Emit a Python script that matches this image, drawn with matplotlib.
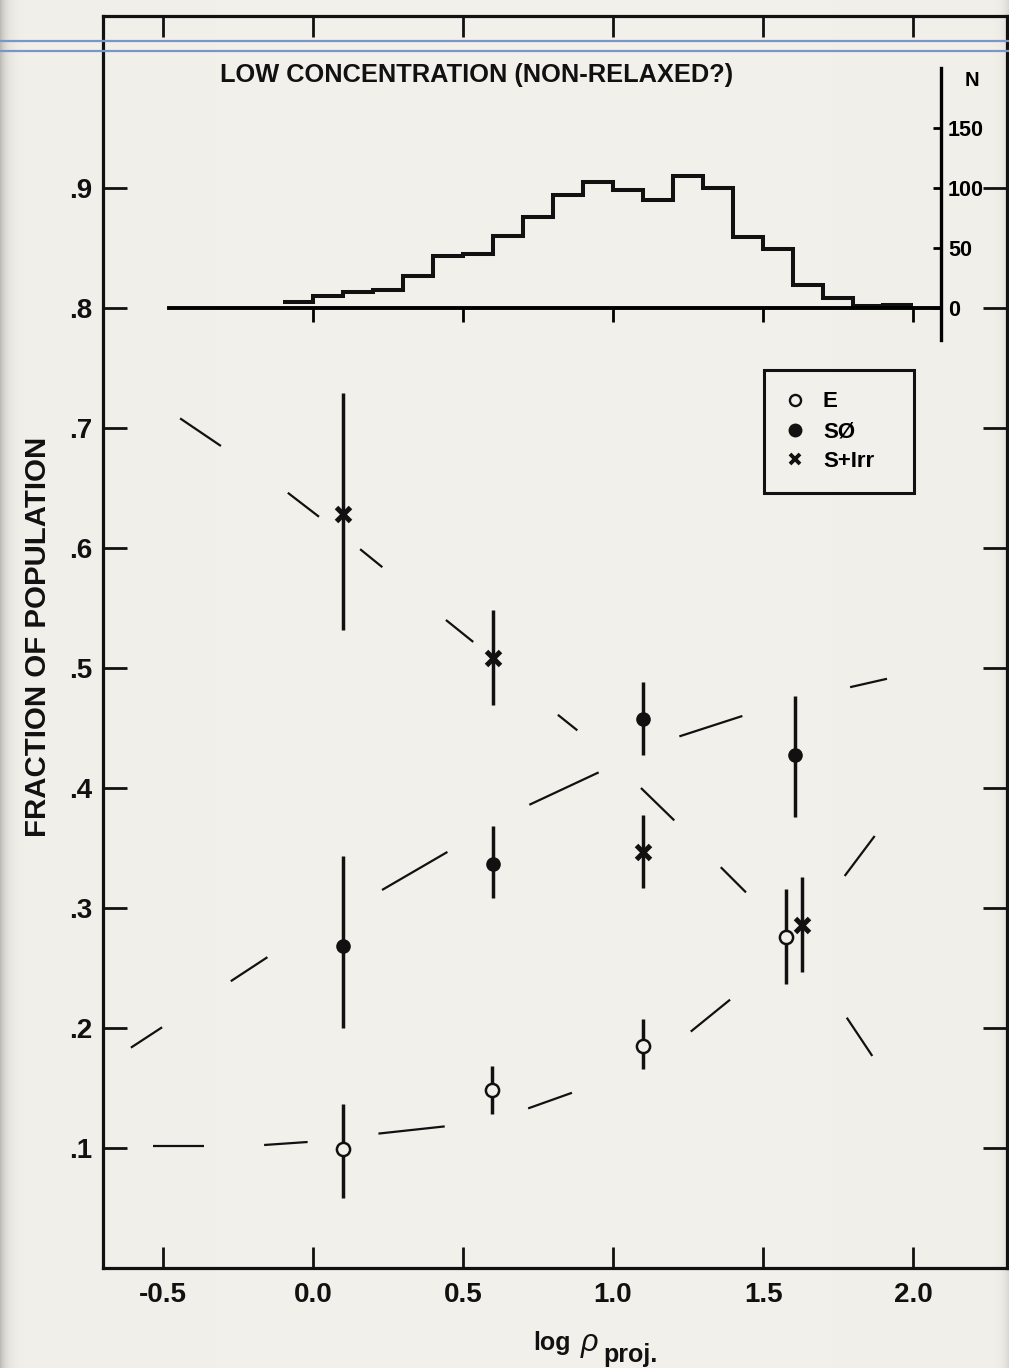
import numpy as np
import matplotlib
matplotlib.use("Agg")
import matplotlib.pyplot as plt
from matplotlib.lines import Line2D

# ---------------- data ----------------
# morphological fractions in bins of projected density
e_x = [0.10, 0.598, 1.10, 1.577]
e_y = [0.099, 0.148, 0.185, 0.276]
e_lo = [0.058, 0.128, 0.166, 0.237]
e_hi = [0.137, 0.168, 0.2075, 0.316]

s0_x = [0.10, 0.60, 1.10, 1.605]
s0_y = [0.2686, 0.337, 0.4575, 0.4275]
s0_lo = [0.200, 0.308, 0.4275, 0.376]
s0_hi = [0.343, 0.368, 0.488, 0.477]

sp_x = [0.10, 0.60, 1.10, 1.629]
sp_y = [0.628, 0.508, 0.347, 0.286]
sp_lo = [0.532, 0.469, 0.317, 0.247]
sp_hi = [0.729, 0.548, 0.3775, 0.3256]

# hand-drawn trend curves (start/end of each drawn dash)
e_curve_x = [(-0.534, -0.363), (-0.163, -0.018), (0.218, 0.439), (0.717, 0.863), (1.259, 1.390), (1.772, 1.872)]
e_curve_y = [(0.1017, 0.1017), (0.1025, 0.105), (0.112, 0.118), (0.133, 0.146), (0.197, 0.2236), (0.3267, 0.360)]

s0_curve_x = [(-0.607, -0.503), (-0.274, -0.152), (0.230, 0.448), (0.721, 0.952), (1.221, 1.431), (1.790, 1.913)]
s0_curve_y = [(0.1836, 0.2006), (0.239, 0.259), (0.315, 0.3467), (0.386, 0.413), (0.443, 0.460), (0.484, 0.491)]

sp_curve_x = [(-0.443, -0.307), (-0.084, 0.020), (0.157, 0.231), (0.443, 0.534), (0.816, 0.881), (1.093, 1.204), (1.359, 1.443), (1.779, 1.864)]
sp_curve_y = [(0.708, 0.685), (0.646, 0.626), (0.599, 0.584), (0.540, 0.5217), (0.461, 0.448), (0.400, 0.373), (0.334, 0.313), (0.2086, 0.1767)]

# number of galaxies per density bin
hist_edges = [-0.1, 0.0, 0.1, 0.2, 0.3, 0.4, 0.5, 0.6, 0.7, 0.8, 0.9, 1.0,
              1.1, 1.2, 1.3, 1.4, 1.5, 1.6, 1.7, 1.8, 1.9, 2.0]
hist_counts = [5, 10, 13, 15, 26, 43, 45, 60, 76, 94, 105, 98,
               90, 110, 100, 59, 49, 19, 8, 1, 2]

x_ticks = [-0.5, 0.0, 0.5, 1.0, 1.5, 2.0]
x_tick_labels = ["-0.5", "0.0", "0.5", "1.0", "1.5", "2.0"]
y_ticks = [0.1, 0.2, 0.3, 0.4, 0.5, 0.6, 0.7, 0.8, 0.9]
y_tick_labels = [".1", ".2", ".3", ".4", ".5", ".6", ".7", ".8", ".9"]
n_ticks = [0, 50, 100, 150]
n_tick_labels = ["0", "50", "100", "150"]

legend_labels = ["E", "S\u00d8", "S+Irr"]

# ---------------- style ----------------
PAPER = "#f2f0eb"
INK = "#111111"
FONT = "Liberation Sans"
plt.rcParams["font.family"] = [FONT, "DejaVu Sans"]
plt.rcParams["font.weight"] = "bold"

W, H, DPI = 1009, 1368, 100
fig = plt.figure(figsize=(W / DPI, H / DPI), dpi=DPI, facecolor=PAPER)

# paper background with slightly darker scanned edges
bg = fig.add_axes([0, 0, 1, 1], zorder=-10)
xx = np.arange(W)
shade = 1 - 0.22 * np.exp(-xx / 6.0) - 0.10 * np.exp(-(W - 1 - xx) / 5.0)
base = np.array([0xf2, 0xf0, 0xeb]) / 255.0
img = np.ones((H, W, 3)) * base
img *= shade[None, :, None]
bg.imshow(img, extent=[0, 1, 0, 1], aspect="auto")
bg.axis("off")

ax = fig.add_axes([103 / W, 100 / H, (1007 - 103) / W, (1268 - 16) / H])
ax.set_facecolor("none")
ax.set_xlim(-0.70, 2.313)
ax.set_ylim(0.0, 1.0433)
for s in ax.spines.values():
    s.set_linewidth(2.3)
    s.set_color(INK)

ax.set_xticks(x_ticks)
ax.set_xticklabels(x_tick_labels)
ax.set_yticks(y_ticks)
ax.set_yticklabels(y_tick_labels)
ax.tick_params(axis="x", direction="in", length=15, width=2, top=True, bottom=True,
               labelsize=20, pad=10, colors=INK)
ax.tick_params(axis="y", direction="in", length=17, width=2, left=True, right=True,
               labelsize=20, pad=8, colors=INK)

# trend curves
for cx, cy in ((e_curve_x, e_curve_y), (s0_curve_x, s0_curve_y), (sp_curve_x, sp_curve_y)):
    for (x0, x1), (y0, y1) in zip(cx, cy):
        ax.plot([x0, x1], [y0, y1], color=INK, lw=1.6, solid_capstyle="butt", zorder=2)


def bars(x, y, lo, hi):
    y = np.asarray(y)
    yerr = [y - np.asarray(lo), np.asarray(hi) - y]
    ax.errorbar(x, y, yerr=yerr, fmt="none", ecolor=INK, elinewidth=2.5, capsize=0, zorder=3)


bars(e_x, e_y, e_lo, e_hi)
bars(s0_x, s0_y, s0_lo, s0_hi)
bars(sp_x, sp_y, sp_lo, sp_hi)

ax.plot(e_x, e_y, ls="none", marker="o", ms=9.5, mfc=PAPER, mec=INK, mew=1.8, zorder=4)
ax.plot(s0_x, s0_y, ls="none", marker="o", ms=9.5, mfc=INK, mec=INK, zorder=4)
ax.plot(sp_x, sp_y, ls="none", marker="x", ms=10, mec=INK, mew=3.6, zorder=4)

# legend
handles = [
    Line2D([], [], ls="none", marker="o", ms=8, mfc=PAPER, mec=INK, mew=1.7),
    Line2D([], [], ls="none", marker="o", ms=9, mfc=INK, mec=INK),
    Line2D([], [], ls="none", marker="x", ms=7.5, mec=INK, mew=2.8),
]
leg = ax.legend(handles, legend_labels, loc="upper left", mode="expand",
                bbox_to_anchor=(1.503, 0.648, 0.50, 0.10), bbox_transform=ax.transData,
                borderaxespad=0, prop={"family": FONT, "weight": "bold", "size": 16},
                handlelength=0.9, handletextpad=0.8, borderpad=0.95, labelspacing=0.4,
                frameon=True, fancybox=False, framealpha=1, facecolor=PAPER, edgecolor=INK)
leg.get_frame().set_linewidth(2.2)

# galaxy-count histogram in the upper panel
hax = ax.inset_axes([-0.70, 0.7733, 2.093 + 0.70, 1.0 - 0.7733], transform=ax.transData)
hax.set_facecolor("none")
hax.set_xlim(-0.70, 2.093)
hax.set_ylim(-27, 200)
hax.stairs(hist_counts, hist_edges, baseline=None, color=INK, lw=2.9)
hax.spines["top"].set_visible(False)
hax.spines["left"].set_visible(False)
hax.spines["right"].set_linewidth(2.4)
hax.spines["bottom"].set_linewidth(2.8)
hax.spines["bottom"].set_position(("data", 0))
hax.spines["bottom"].set_bounds(-0.48, 2.093)
hax.set_xticks(x_ticks[1:])
hax.tick_params(axis="x", direction="out", length=10, width=2, labelbottom=False)
hax.yaxis.tick_right()
hax.set_yticks(n_ticks)
hax.set_yticklabels(n_tick_labels)
hax.tick_params(axis="y", direction="in", length=6, width=2, labelsize=15.5, pad=5)
fig.text(972 / W, 1 - 81 / H, "N", ha="center", va="center", fontsize=14.5, fontweight="bold")

# texts
fig.text(220 / W, 1 - 82 / H, "LOW CONCENTRATION (NON-RELAXED?)", ha="left", va="baseline",
         fontsize=18.3, fontweight="bold", color=INK)
fig.text(38 / W, 1 - 637 / H, "FRACTION OF POPULATION", rotation=90, ha="center", va="center",
         fontsize=21.2, fontweight="bold", color=INK)
fig.text(533 / W, 1 - 1350 / H, "log", ha="left", va="baseline", fontsize=18, fontweight="bold", color=INK)
fig.text(581 / W, 1 - 1351 / H, "\u03c1", ha="left", va="baseline", fontsize=22, fontstyle="italic",
         fontweight="normal", color=INK)
fig.text(603 / W, 1 - 1362 / H, "proj.", ha="left", va="baseline", fontsize=18, fontweight="bold", color=INK)

# blue rules across the page top
for yy in (41, 51):
    fig.add_artist(Line2D([0, 1], [1 - yy / H] * 2, transform=fig.transFigure,
                          color="#7896c6", lw=1.6, zorder=30))

fig.savefig("out.png", dpi=DPI, facecolor=PAPER)
